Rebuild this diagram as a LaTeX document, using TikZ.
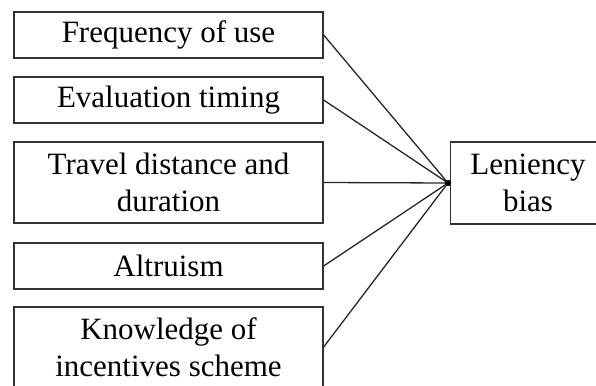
\documentclass[tikz,border=0pt]{standalone}
\usepackage{fontspec}
\setmainfont{Liberation Serif}
\begin{document}
\begin{tikzpicture}[x=1pt,y=-1pt,
  factor/.style={draw=black!80, line width=1.3pt, inner sep=0pt, align=center,
    font=\fontsize{31}{37}\selectfont, text=black},
  link/.style={draw=black!85, line width=1.3pt}]
\useasboundingbox (0,0) rectangle (596,385);
\clip (0,0) rectangle (596,385);

% influencing factors
\node[factor, minimum width=309pt, minimum height=46pt] (freq) at (168.5,35) {Frequency of use};
\node[factor, minimum width=309pt, minimum height=46pt] (eval) at (168.5,100) {Evaluation timing};
\node[factor, minimum width=309pt, minimum height=81pt] (trav) at (168.5,182.5) {Travel distance and\\duration};
\node[factor, minimum width=309pt, minimum height=46pt] (altr) at (168.5,266) {Altruism};
\node[factor, minimum width=309pt, minimum height=80pt] (know) at (168.5,347) {Knowledge of\\incentives scheme};

% outcome
\node[factor, minimum width=155pt, minimum height=82pt] (bias) at (528,183) {Leniency\\bias};

% junction point
\coordinate (j) at (448,183);
\foreach \n in {freq,eval,trav,altr,know}
  \draw[link] (\n.east) -- (j);
\fill[black] (j) circle (3.2pt);
\end{tikzpicture}
\end{document}
